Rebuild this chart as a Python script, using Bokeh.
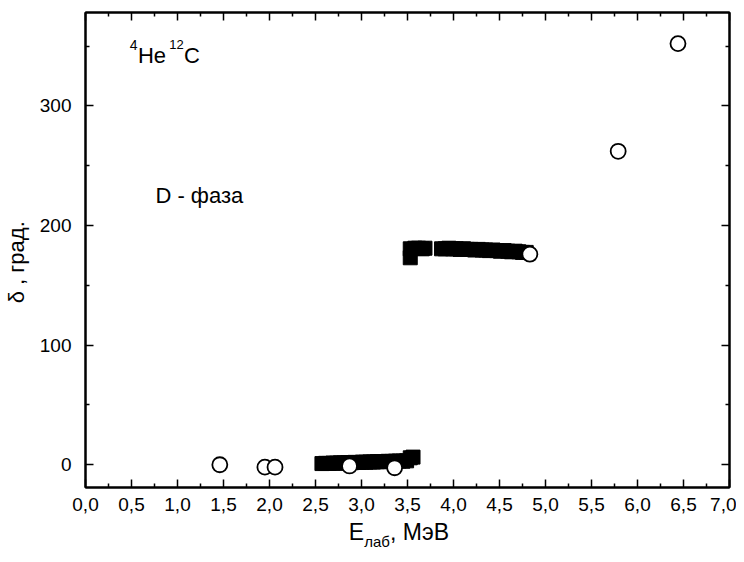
from bokeh.plotting import figure
from bokeh.models import LinearAxis, FixedTicker, CustomJSTickFormatter, Range1d, Label, Div
from bokeh.layouts import column
from bokeh.embed import file_html
from bokeh.resources import INLINE

# ---- data ----
circle_x = [1.46, 1.95, 2.06, 2.87, 3.36, 4.83, 5.79, 6.44]
circle_y = [0.0, -2.0, -2.0, -1.0, -2.5, 176.0, 262.0, 352.0]

sq_lo_x = [2.57, 2.61, 2.65, 2.69, 2.73, 2.77, 2.81, 2.85, 2.89, 2.93, 2.97, 3.01, 3.05,
           3.09, 3.13, 3.17, 3.21, 3.25, 3.29, 3.33, 3.37, 3.41, 3.45, 3.49, 3.53, 3.56]
sq_lo_y = [1.0, 1.2, 1.1, 1.4, 1.3, 1.6, 1.5, 1.8, 1.7, 2.0, 1.9, 2.2, 2.1,
           2.4, 2.3, 2.6, 2.5, 2.7, 2.9, 2.8, 3.0, 3.1, 3.0, 3.3, 5.8, 6.4]

sq_hi_x = [3.53, 3.53, 3.58, 3.62, 3.66, 3.69, 3.87, 3.91, 3.95, 3.99, 4.03, 4.07, 4.11, 4.15, 4.19,
           4.23, 4.27, 4.31, 4.35, 4.39, 4.43, 4.47, 4.51, 4.55, 4.59, 4.63, 4.67, 4.71, 4.75, 4.79]
sq_hi_y = [173.0, 180.5, 181.0, 181.0, 180.5, 181.0, 180.5, 180.5, 181.0, 180.5, 180.5, 180.0, 180.5, 180.0, 180.0,
           179.5, 180.0, 179.5, 179.5, 179.0, 179.5, 179.0, 178.5, 179.0, 178.5, 178.0, 178.5, 178.0, 177.5, 177.5]

x_major = [0.0, 0.5, 1.0, 1.5, 2.0, 2.5, 3.0, 3.5, 4.0, 4.5, 5.0, 5.5, 6.0, 6.5, 7.0]
x_minor = [0.25, 0.75, 1.25, 1.75, 2.25, 2.75, 3.25, 3.75, 4.25, 4.75, 5.25, 5.75, 6.25, 6.75]
y_major = [0, 100, 200, 300]
y_minor = [50, 150, 250, 350]

FONT = "Liberation Sans"

p = figure(frame_width=644, frame_height=475, output_backend="svg", toolbar_location=None,
           x_range=Range1d(0, 7), y_range=Range1d(-19, 378),
           min_border_left=77, min_border_right=7, min_border_top=12, min_border_bottom=32)
p.background_fill_color = "white"
p.border_fill_color = "white"
p.xgrid.visible = False
p.ygrid.visible = False
p.outline_line_color = "black"
p.outline_line_width = 2

fmt_x = CustomJSTickFormatter(code="return tick.toFixed(1).replace('.', ',');")
blank = CustomJSTickFormatter(code="return '';")

def style_axis(ax, show_labels):
    ax.axis_line_width = 2
    ax.axis_line_color = "black"
    ax.major_tick_in = 8
    ax.major_tick_out = 0
    ax.minor_tick_in = 4
    ax.minor_tick_out = 0
    ax.major_tick_line_width = 1.5
    ax.minor_tick_line_width = 1.5
    ax.major_tick_line_color = "black"
    ax.minor_tick_line_color = "black"
    ax.major_label_text_font = FONT
    ax.major_label_text_font_size = "19px" if show_labels else "0px"
    ax.major_label_text_color = "black"
    if not show_labels:
        ax.major_label_standoff = 0

xax = p.xaxis[0]
xax.ticker = FixedTicker(ticks=x_major, minor_ticks=x_minor)
xax.formatter = fmt_x
style_axis(xax, True)
xax.major_label_standoff = 10

yax = p.yaxis[0]
yax.ticker = FixedTicker(ticks=y_major, minor_ticks=y_minor)
style_axis(yax, True)
yax.major_label_standoff = 14
yax.axis_label = "δ , град.\u00a0\u00a0\u00a0\u00a0"
yax.axis_label_text_font = FONT
yax.axis_label_text_font_size = "22px"
yax.axis_label_text_font_style = "normal"
yax.axis_label_text_color = "black"
yax.axis_label_standoff = 8

top = LinearAxis(ticker=FixedTicker(ticks=x_major, minor_ticks=x_minor), formatter=blank)
style_axis(top, False)
p.add_layout(top, "above")
right = LinearAxis(ticker=FixedTicker(ticks=y_major, minor_ticks=y_minor), formatter=blank)
style_axis(right, False)
p.add_layout(right, "right")

# ---- marks ----
p.scatter(x=sq_lo_x, y=sq_lo_y, marker="square", size=14, fill_color="black", line_color="black")
p.scatter(x=sq_hi_x, y=sq_hi_y, marker="square", size=14, fill_color="black", line_color="black")
p.scatter(x=circle_x, y=circle_y, marker="circle", size=15, fill_color="white",
          line_color="black", line_width=1.8)

# ---- texts inside the frame ----
def lab(x, y, text, size, baseline="alphabetic"):
    p.add_layout(Label(x=x, y=y, text=text, text_font=FONT, text_font_size=size,
                       text_baseline=baseline, text_align="left", text_color="black"))

lab(0.48, 355, "4", "14px", "top")
lab(0.57, 342, "He", "22px")
lab(0.91, 355, "12", "13px", "top")
lab(1.07, 342, "C", "22px")
lab(0.76, 225, "D - фаза", "22px")

# ---- x axis title with subscript ----
xtitle = Div(
    text='E<span style="font-size:15px;position:relative;top:7px;">лаб</span>, МэВ',
    width=644, height=40, margin=(0, 0, 0, 77),
    styles={"text-align": "center", "font-family": FONT, "font-size": "23px",
            "color": "black", "line-height": "26px"})

layout = column(p, xtitle, spacing=0)
open("out.html", "w").write(file_html(layout, INLINE))
